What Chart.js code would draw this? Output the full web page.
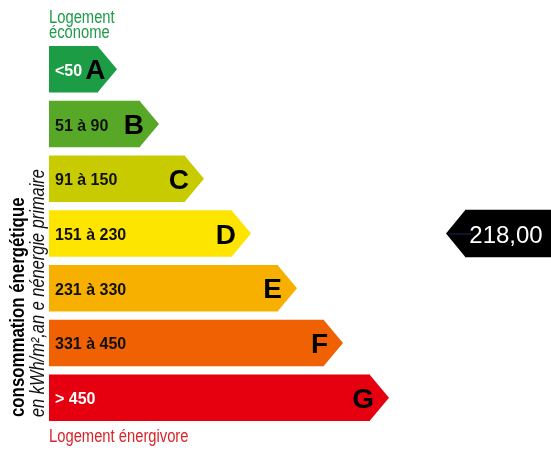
<!DOCTYPE html>
<html>
<head>
<meta charset="utf-8">
<script src="https://cdn.jsdelivr.net/npm/chart.js@4/dist/chart.umd.min.js"></script>
<style>
  html, body { margin: 0; padding: 0; background: #fff; }
  #wrap { width: 551px; height: 450px; }
</style>
</head>
<body>
<div id="wrap"><canvas id="dpe" width="551" height="450"></canvas></div>
<script>
// energy label (DPE) redrawn as a horizontal bar chart
// each class is a bar, the arrow tips and texts are drawn by a small plugin

var classes = ['A', 'B', 'C', 'D', 'E', 'F', 'G'];
var ranges = ['<50', '51 à 90', '91 à 150', '151 à 230', '231 à 330', '331 à 450', '> 450'];
// length of each class bar (body, without the tip)
var barLengths = [49, 91, 136, 183, 229, 275, 321];
// the measured value and where its marker sits
var consumptionText = '218,00';
var consumptionClass = 'D';
var markerSpan = [416, 502];

var classColors = ['#1c9c45', '#58a828', '#c8cb00', '#fde500', '#f8b000', '#ef6103', '#e6000f'];
var rangeTextColors = ['#fff', '#111', '#111', '#111', '#111', '#111', '#fff'];

(function () {
  var tipWidth = 19;

  // marker data: only the class that holds the value gets a bar
  var markerData = classes.map(function (c) {
    return c === consumptionClass ? markerSpan : null;
  });

  // draw text squeezed horizontally, optionally turned to read bottom-up
  function narrowText(ctx, text, x, y, font, color, squeeze, vertical) {
    ctx.save();
    ctx.translate(x, y);
    if (vertical) { ctx.rotate(-Math.PI / 2); }
    ctx.scale(squeeze, 1);
    ctx.font = font;
    ctx.fillStyle = color;
    ctx.textBaseline = 'alphabetic';
    ctx.textAlign = 'left';
    ctx.fillText(text, 0, 0);
    ctx.restore();
  }

  var labelPlugin = {
    id: 'dpeLabels',
    afterDatasetsDraw: function (chart) {
      var ctx = chart.ctx;
      var bars = chart.getDatasetMeta(0).data;
      var marker = chart.getDatasetMeta(1).data;

      // arrow tips, range and class letter for each bar
      for (var i = 0; i < bars.length; i++) {
        var b = bars[i].getProps(['x', 'y', 'base', 'height'], true);
        var top = b.y - b.height / 2;
        var bottom = b.y + b.height / 2;
        ctx.save();
        ctx.fillStyle = classColors[i];
        ctx.beginPath();
        ctx.moveTo(b.x - 0.5, top);
        ctx.lineTo(b.x + tipWidth, b.y);
        ctx.lineTo(b.x - 0.5, bottom);
        ctx.closePath();
        ctx.fill();

        ctx.fillStyle = rangeTextColors[i];
        ctx.font = 'bold 16px "Liberation Sans", Arial, sans-serif';
        ctx.textBaseline = 'alphabetic';
        ctx.textAlign = 'left';
        ctx.fillText(ranges[i], b.base + 6, b.y + 6.5);
        var labelEnd = b.base + 6 + ctx.measureText(ranges[i]).width;

        // letter sits at the end of the bar, but never on top of the range
        ctx.fillStyle = '#000';
        ctx.font = 'bold 28px "Liberation Sans", Arial, sans-serif';
        var letterW = ctx.measureText(classes[i]).width;
        var letterRight = Math.max(b.x + 4, labelEnd + 3 + letterW);
        ctx.textAlign = 'right';
        ctx.fillText(classes[i], letterRight, b.y + 10);
        ctx.restore();
      }

      // black marker pointing left with the value
      for (var j = 0; j < marker.length; j++) {
        if (markerData[j] === null) { continue; }
        var m = marker[j].getProps(['x', 'y', 'base', 'height'], true);
        var left = Math.min(m.x, m.base);
        ctx.save();
        ctx.fillStyle = '#000';
        ctx.beginPath();
        ctx.moveTo(left + 0.5, m.y - m.height / 2);
        ctx.lineTo(left - tipWidth, m.y);
        ctx.lineTo(left + 0.5, m.y + m.height / 2);
        ctx.closePath();
        ctx.fill();
        // faint line running into the value
        ctx.strokeStyle = '#1d2650';
        ctx.lineWidth = 1;
        ctx.beginPath();
        ctx.moveTo(left - tipWidth + 3, m.y + 0.5);
        ctx.lineTo(left + 6, m.y + 0.5);
        ctx.stroke();

        ctx.fillStyle = '#fff';
        ctx.font = '24px "Liberation Sans", Arial, sans-serif';
        ctx.textAlign = 'center';
        ctx.textBaseline = 'alphabetic';
        ctx.fillText(consumptionText, left + 41, m.y + 9);
        ctx.restore();
      }

      // texts around the scale
      var narrow = '"Liberation Sans", Arial, sans-serif';
      narrowText(ctx, 'Logement', 49, 23, '18px ' + narrow, '#1e9b48', 0.82, false);
      narrowText(ctx, 'économe', 49, 38, '18px ' + narrow, '#1e9b48', 0.82, false);
      narrowText(ctx, 'Logement énergivore', 49, 442, '18px ' + narrow, '#d9232a', 0.82, false);
      narrowText(ctx, 'consommation énergétique', 24, 417, 'bold 20.5px ' + narrow, '#000', 0.82, true);
      narrowText(ctx, 'en kWh/m²,an e nénergie primaire', 44, 417, 'italic 20px ' + narrow, '#111', 0.82, true);
    }
  };

  new Chart(document.getElementById('dpe'), {
    type: 'bar',
    data: {
      labels: classes,
      datasets: [{
        label: 'classes',
        data: barLengths,
        backgroundColor: classColors,
        borderWidth: 0,
        grouped: false,
        categoryPercentage: 1,
        barPercentage: 0.85
      }, {
        label: 'consommation',
        data: markerData,
        backgroundColor: '#000',
        borderWidth: 0,
        grouped: false,
        categoryPercentage: 1,
        barPercentage: 0.87
      }]
    },
    options: {
      indexAxis: 'y',
      responsive: false,
      animation: false,
      events: [],
      layout: { padding: { left: 49, right: 0, top: 42, bottom: 25 } },
      plugins: {
        legend: { display: false },
        tooltip: { enabled: false }
      },
      scales: {
        x: { display: false, min: 0, max: 502 },
        y: { display: false }
      }
    },
    plugins: [labelPlugin]
  });
})();
</script>
</body>
</html>
